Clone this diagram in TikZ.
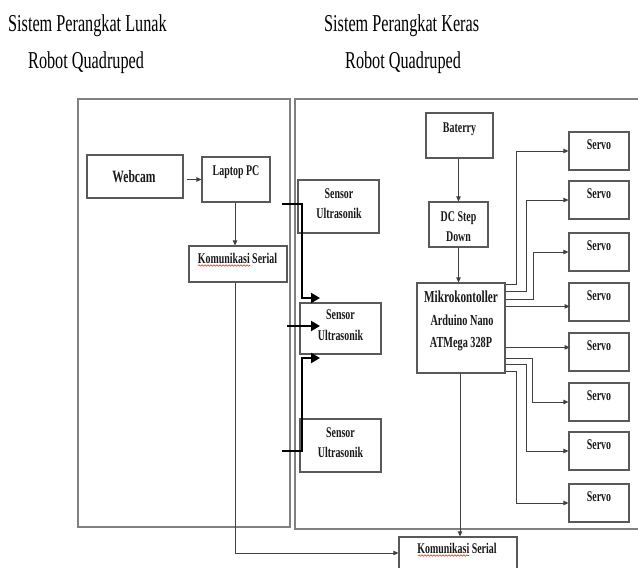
\documentclass[tikz,border=0pt]{standalone}
\usepackage{fontspec}
\setmainfont{Liberation Serif}
\usepackage{graphicx}
\usetikzlibrary{arrows.meta,decorations.pathmorphing}
\newcommand\sqz[1]{\scalebox{0.67}[1]{#1}}
\begin{document}
\begin{tikzpicture}[x=1pt,y=-1pt,
  frame/.style={draw=black!50, line width=1.7pt},
  blk/.style={draw=black!65, line width=1.2pt, rectangle, inner sep=0pt},
  txt/.style={anchor=base, inner sep=0pt, font=\bfseries\fontsize{14.8}{16}\selectfont, text=black!90},
  ttl/.style={anchor=base west, inner sep=0pt, font=\fontsize{24.2}{26}\selectfont},
  conn/.style={draw=black!75, line width=1pt, -{Triangle[length=5pt,width=4.5pt]}},
  boldarrow/.style={draw=black, line width=2pt, -{Triangle[length=9pt,width=10pt]}},
  squig/.style={draw=red!85, line width=0.6pt, decorate, decoration={snake, amplitude=0.7pt, segment length=3pt}}
]
\useasboundingbox (0,0) rectangle (638,568);
\clip (0,0) rectangle (638,568);
\fill[white] (0,0) rectangle (638,568);

% titles
\node[ttl] (t1) at (8,31) {\sqz{Sistem Perangkat Lunak}};
\node[ttl] (t2) at (28,68) {\sqz{Robot Quadruped}};
\node[ttl] (t3) at (324,31) {\sqz{Sistem Perangkat Keras}};
\node[ttl] (t4) at (345,68) {\sqz{Robot Quadruped}};

% frames
\draw[frame] (78,99) rectangle (290,527);
\draw[frame] (295,99) rectangle (660,529);

% boxes
\node[blk, minimum width=96, minimum height=43] (webcam) at (135,176.5) {};
\node[blk, minimum width=68, minimum height=45] (laptop) at (236,179.5) {};
\node[blk, minimum width=98, minimum height=36] (komL) at (238,264) {};
\node[blk, minimum width=81, minimum height=53] (sen1) at (338.5,206.5) {};
\node[blk, minimum width=81, minimum height=51] (sen2) at (340.5,328.5) {};
\node[blk, minimum width=81, minimum height=53] (sen3) at (340.5,445.5) {};
\node[blk, minimum width=67, minimum height=45] (bat) at (459.5,135.5) {};
\node[blk, minimum width=59, minimum height=45] (dc) at (458.5,224.5) {};
\node[blk, minimum width=88, minimum height=90] (mikro) at (461,328) {};
\node[blk, minimum width=118, minimum height=40] (komB) at (458,557) {};
\foreach \i/\t in {1/132,2/181,3/233,4/283,5/333,6/383,7/432,8/484}{
  \node[blk, minimum width=60, minimum height=38] (s\i) at (599,\t+19) {};
  \node[txt] (st\i) at (599,\t+17.5) {\sqz{Servo}};
}

% texts
\node[txt, font=\bfseries\fontsize{17.3}{18}\selectfont] (webcamt) at (134,182) {\sqz{Webcam}};
\node[txt] (laptopt) at (236,175) {\sqz{Laptop PC}};
\node[txt] (komLt) at (237.5,263) {\sqz{Komunikasi Serial}};
\node[txt] (sen1a) at (339,198) {\sqz{Sensor}};
\node[txt] (sen1b) at (339,218) {\sqz{Ultrasonik}};
\node[txt] (sen2a) at (340.5,319) {\sqz{Sensor}};
\node[txt] (sen2b) at (340.5,340) {\sqz{Ultrasonik}};
\node[txt] (sen3a) at (340.5,437) {\sqz{Sensor}};
\node[txt] (sen3b) at (340.5,457) {\sqz{Ultrasonik}};
\node[txt] (batt) at (459.5,132) {\sqz{Baterry}};
\node[txt] (dca) at (458.5,221) {\sqz{DC Step}};
\node[txt] (dcb) at (458.5,241) {\sqz{Down}};
\node[txt, font=\bfseries\fontsize{16.7}{18}\selectfont] (mka) at (461,302) {\sqz{Mikrokontoller}};
\node[txt, font=\bfseries\fontsize{15.3}{17}\selectfont] (mkb) at (462,325) {\sqz{Arduino Nano}};
\node[txt, font=\bfseries\fontsize{15.3}{17}\selectfont] (mkc) at (461,347) {\sqz{ATMega 328P}};
\node[txt] (komBt) at (457,553) {\sqz{Komunikasi Serial}};

% spell-check underlines
\draw[squig] (198,265.5) -- (250,265.5);
\draw[squig] (418,555.5) -- (469,555.5);

% connectors
\draw[conn, shorten <=3pt] (webcam.east |- laptop.west) -- (laptop.west);
\draw[conn] ([xshift=-1pt]laptop.south) -- ([xshift=-1pt]laptop.south |- komL.north);
\draw[conn] ([xshift=-3pt]komL.south) |- ([yshift=4pt]komB.west);
\draw[conn] (dc.north |- bat.south) -- (dc.north);
\draw[conn] (dc.south) -- (dc.south |- mikro.north);
\draw[conn] ([xshift=-1pt]mikro.south) -- ([xshift=-1pt]mikro.south |- komB.north);

\draw[conn] ([yshift=-2pt]mikro.north east) -- ++(11,0) |- (s1.west);
\draw[conn] ([yshift=-9pt]mikro.north east) -- ++(21,0) |- (s2.west);
\draw[conn] ([yshift=-17pt]mikro.north east) -- ++(28,0) |- (s3.west);
\draw[conn] ([yshift=-24pt]mikro.north east) -- ++(64,0);
\draw[conn] ([yshift=-65pt]mikro.north east) -- ++(64,0);
\draw[conn] ([yshift=-76pt]mikro.north east) -- ++(27,0) |- (s6.west);
\draw[conn] ([yshift=-82pt]mikro.north east) -- ++(21,0) |- (s7.west);
\draw[conn] ([yshift=-89pt]mikro.north east) -- ++(11,0) |- (s8.west);

% bold sensor arrows
\coordinate (ta) at (282,204);
\coordinate (bendA) at (302,298);
\coordinate (tb) at (287,326);
\coordinate (tc) at (282,451);
\coordinate (bendC) at (302,358);
\draw[boldarrow] (ta) -| (bendA) -- ++(18,0);
\draw[boldarrow] (tb) -- ++(33,0);
\draw[boldarrow] (tc) -| (bendC) -- ++(18,0);
\end{tikzpicture}
\end{document}
